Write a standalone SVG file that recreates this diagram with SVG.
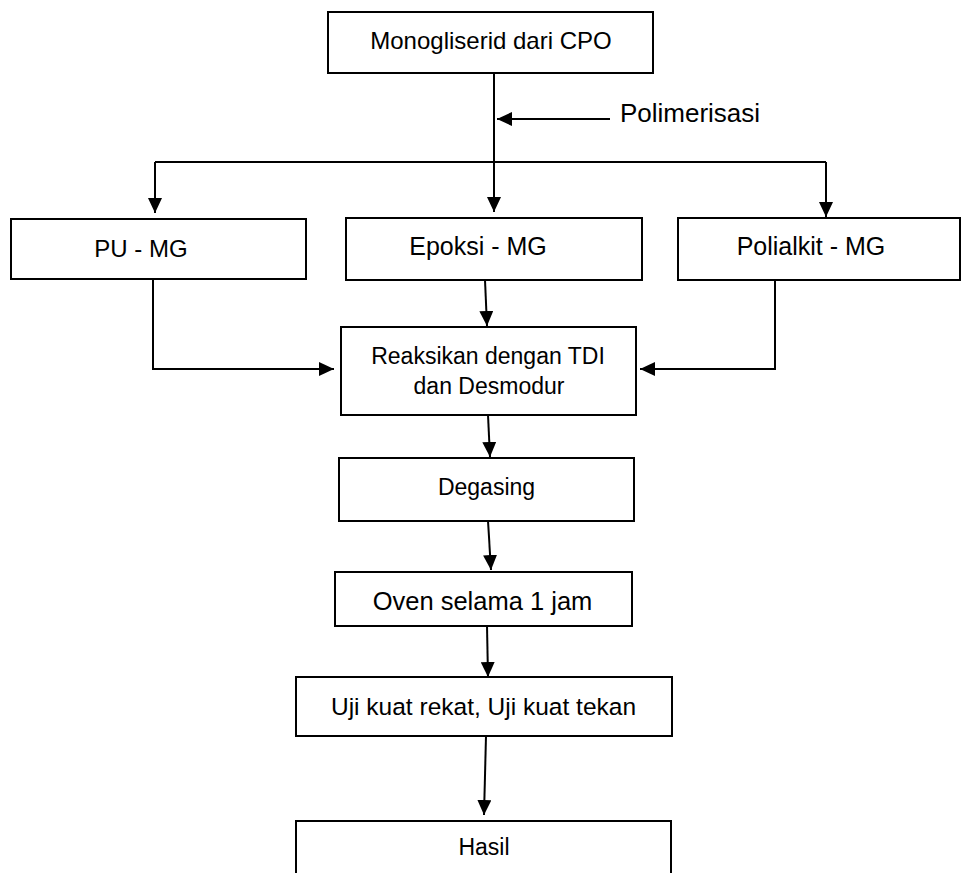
<svg xmlns="http://www.w3.org/2000/svg" width="962" height="873" viewBox="0 0 962 873">
<style>
.box{fill:#fff;stroke:#000;stroke-width:2}
.t{font-family:"Liberation Sans",Arial,sans-serif;fill:#000;text-anchor:middle}
.c{fill:none;stroke:#000;stroke-width:2}
</style>
<defs>
<marker id="ah" markerUnits="userSpaceOnUse" markerWidth="15" markerHeight="14" refX="15" refY="7" orient="auto">
<path d="M0,0 L15,7 L0,14 Z" fill="#000"/>
</marker>
</defs>
<rect width="962" height="873" fill="#fff"/>
<g id="connectors">
<line class="c" x1="494" y1="73" x2="494" y2="212" marker-end="url(#ah)"/>
<line class="c" x1="610" y1="119" x2="497" y2="119" marker-end="url(#ah)"/>
<line class="c" x1="155" y1="162" x2="826" y2="162"/>
<line class="c" x1="155" y1="162" x2="155" y2="213" marker-end="url(#ah)"/>
<line class="c" x1="826" y1="162" x2="826" y2="217" marker-end="url(#ah)"/>
<polyline class="c" points="153,279 153,369 334,369" marker-end="url(#ah)"/>
<line class="c" x1="485" y1="280" x2="487" y2="326" marker-end="url(#ah)"/>
<polyline class="c" points="775,280 775,369 640,369" marker-end="url(#ah)"/>
<line class="c" x1="488" y1="415" x2="490" y2="457" marker-end="url(#ah)"/>
<line class="c" x1="488" y1="521" x2="491" y2="570" marker-end="url(#ah)"/>
<line class="c" x1="487" y1="626" x2="488" y2="677" marker-end="url(#ah)"/>
<line class="c" x1="486" y1="736" x2="484" y2="815" marker-end="url(#ah)"/>
</g>
<g id="label-polimerisasi"><text class="t" x="690" y="121.5" font-size="26">Polimerisasi</text></g>
<g id="n-mono"><rect class="box" x="328" y="12" width="325" height="61"/><text class="t" x="491" y="48.5" font-size="24">Monogliserid dari CPO</text></g>
<g id="n-pu"><rect class="box" x="11" y="219" width="295" height="60"/><text class="t" x="141" y="257" font-size="24">PU - MG</text></g>
<g id="n-epoksi"><rect class="box" x="346" y="218" width="296" height="62"/><text class="t" x="478" y="255" font-size="25">Epoksi - MG</text></g>
<g id="n-polialkit"><rect class="box" x="678" y="218" width="282" height="62"/><text class="t" x="811" y="255" font-size="25">Polialkit - MG</text></g>
<g id="n-reaksi"><rect class="box" x="341" y="327" width="295" height="88"/><text class="t" x="488" y="363.5" font-size="23">Reaksikan dengan TDI</text><text class="t" x="489" y="394" font-size="23">dan Desmodur</text></g>
<g id="n-degasing"><rect class="box" x="339" y="458" width="295" height="63"/><text class="t" x="486.5" y="495" font-size="23">Degasing</text></g>
<g id="n-oven"><rect class="box" x="335" y="572" width="297" height="54"/><text class="t" x="482.5" y="610" font-size="25.5">Oven selama 1 jam</text></g>
<g id="n-uji"><rect class="box" x="296" y="677" width="376" height="59"/><text class="t" x="483.5" y="715" font-size="24.5">Uji kuat rekat, Uji kuat tekan</text></g>
<g id="n-hasil"><rect class="box" x="296" y="821" width="375" height="70"/><text class="t" x="484" y="855" font-size="23">Hasil</text></g>
</svg>
